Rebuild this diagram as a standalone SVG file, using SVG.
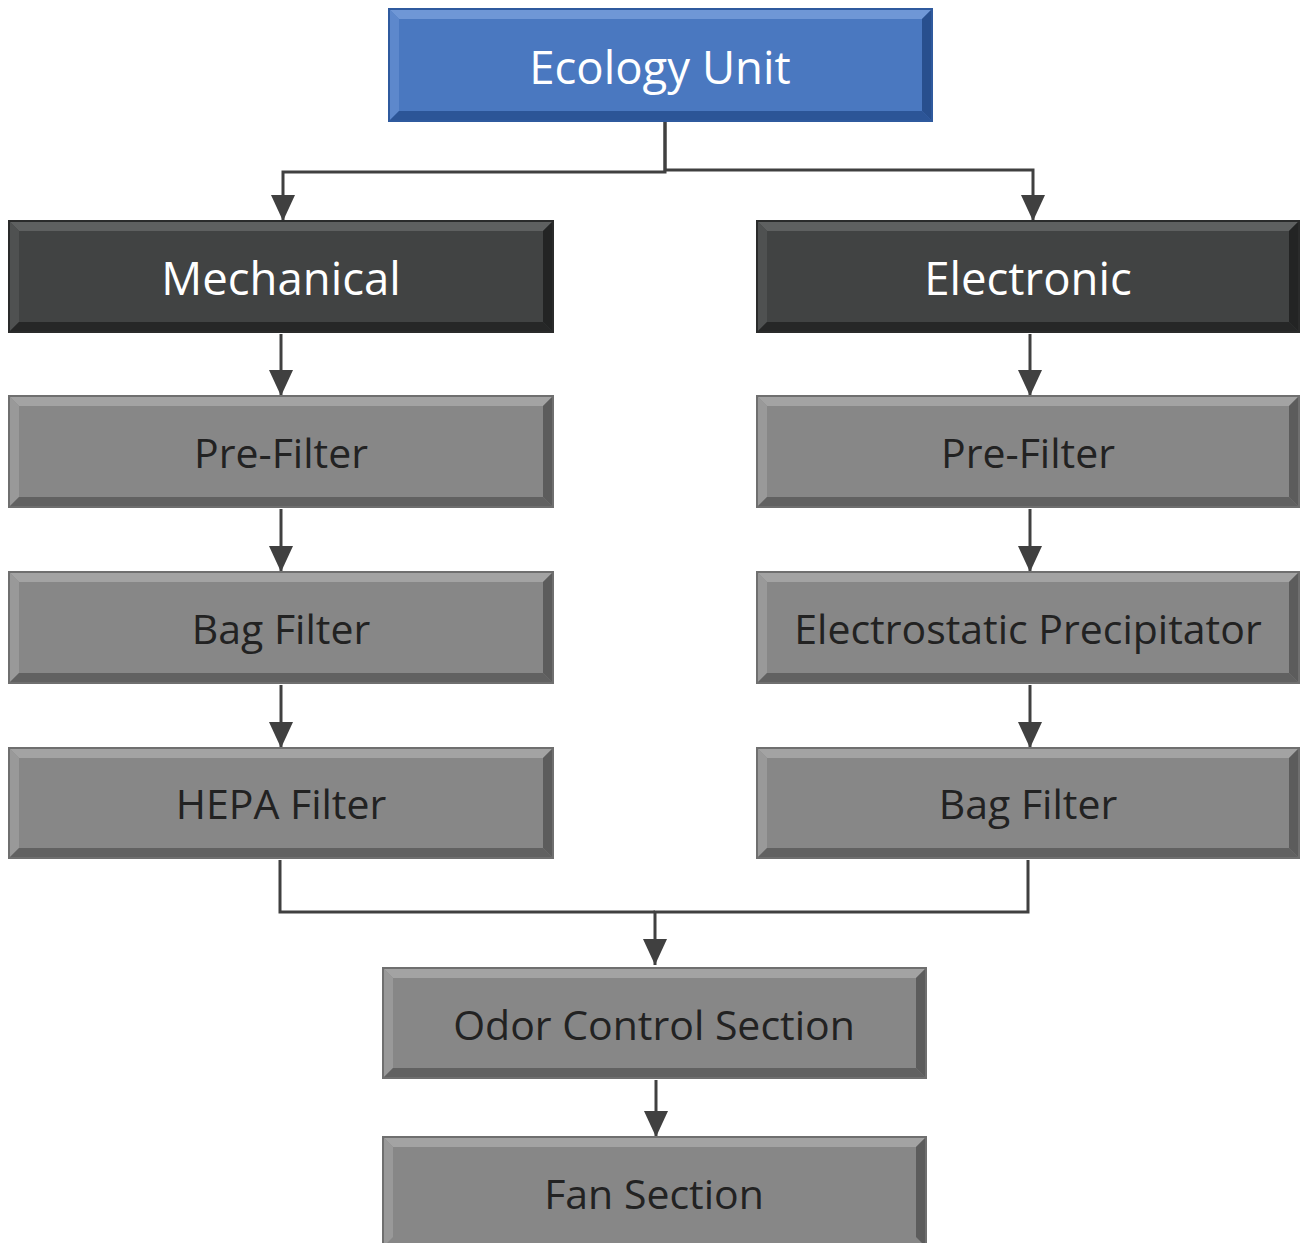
<svg xmlns="http://www.w3.org/2000/svg" width="1304" height="1243" viewBox="0 0 1304 1243">
<defs>
<style>
.face-g{fill:#878787}
.face-d{fill:#414343}
.face-b{fill:#4a78c0}
.edge-g{fill:none;stroke:#6f6f6f;stroke-width:2}
.edge-d{fill:none;stroke:#2a2b2b;stroke-width:2}
.edge-b{fill:none;stroke:#2f5a9e;stroke-width:2}
.t-g{fill:#a3a3a3}.l-g{fill:#999}.b-g{fill:#616161}.r-g{fill:#5c5c5c}
.t-d{fill:#5e6060}.l-d{fill:#4f5151}.b-d{fill:#262727}.r-d{fill:#232424}
.t-b{fill:#6f97d6}.l-b{fill:#5d88cc}.b-b{fill:#2c5597}.r-b{fill:#284f8e}
.lbl{font-family:"Open Sans","Noto Sans",sans-serif;text-anchor:middle;dominant-baseline:central}
.lg{fill:#222;font-size:41px}
.lw{fill:#fff;font-size:45.5px}
.con{fill:none;stroke:#404040;stroke-width:3}
</style>
<marker id="ad" markerUnits="userSpaceOnUse" markerWidth="26" markerHeight="24" viewBox="0 0 26 24" refX="26" refY="12" orient="auto">
<path d="M0 0 L26 12 L0 24 Z" fill="#404040"/>
</marker>
</defs>
<rect width="1304" height="1243" fill="#fff"/>
<g id="connectors">
<path class="con" d="M665 121 V172 H283 V221" marker-end="url(#ad)"/>
<path class="con" d="M665 121 V170 H1033 V221" marker-end="url(#ad)"/>
<path class="con" d="M281 334 V396" marker-end="url(#ad)"/>
<path class="con" d="M1030 334 V396" marker-end="url(#ad)"/>
<path class="con" d="M281 509 V572" marker-end="url(#ad)"/>
<path class="con" d="M1030 509 V572" marker-end="url(#ad)"/>
<path class="con" d="M281 685 V748" marker-end="url(#ad)"/>
<path class="con" d="M1030 685 V748" marker-end="url(#ad)"/>
<path class="con" d="M280 860 V912 H655"/>
<path class="con" d="M1028 860 V912 H655 V965" marker-end="url(#ad)"/>
<path class="con" d="M656 1080 V1137" marker-end="url(#ad)"/>
</g>
<g id="node-ecology">
<rect class="face-b" x="389" y="9" width="543" height="112"/>
<polygon class="t-b" points="389,9 932,9 922,19 399,19"/>
<polygon class="l-b" points="389,9 399,19 399,111 389,121"/>
<polygon class="b-b" points="389,121 932,121 922,111 399,111"/>
<polygon class="r-b" points="932,9 932,121 922,111 922,19"/>
<rect class="edge-b" x="389" y="9" width="543" height="112"/>
<text class="lbl lw" x="660" y="66">Ecology Unit</text>
</g>
<g id="node-mechanical">
<rect class="face-d" x="9" y="221" width="544" height="111"/>
<polygon class="t-d" points="9,221 553,221 543,231 19,231"/>
<polygon class="l-d" points="9,221 19,231 19,322 9,332"/>
<polygon class="b-d" points="9,332 553,332 543,322 19,322"/>
<polygon class="r-d" points="553,221 553,332 543,322 543,231"/>
<rect class="edge-d" x="9" y="221" width="544" height="111"/>
<text class="lbl lw" x="281" y="277">Mechanical</text>
</g>
<g id="node-electronic">
<rect class="face-d" x="757" y="221" width="542" height="111"/>
<polygon class="t-d" points="757,221 1299,221 1289,231 767,231"/>
<polygon class="l-d" points="757,221 767,231 767,322 757,332"/>
<polygon class="b-d" points="757,332 1299,332 1289,322 767,322"/>
<polygon class="r-d" points="1299,221 1299,332 1289,322 1289,231"/>
<rect class="edge-d" x="757" y="221" width="542" height="111"/>
<text class="lbl lw" x="1028" y="277">Electronic</text>
</g>
<g id="node-prefilter-1">
<rect class="face-g" x="9" y="396" width="544" height="111"/>
<polygon class="t-g" points="9,396 553,396 543,406 19,406"/>
<polygon class="l-g" points="9,396 19,406 19,497 9,507"/>
<polygon class="b-g" points="9,507 553,507 543,497 19,497"/>
<polygon class="r-g" points="553,396 553,507 543,497 543,406"/>
<rect class="edge-g" x="9" y="396" width="544" height="111"/>
<text class="lbl lg" x="281" y="452">Pre-Filter</text>
</g>
<g id="node-prefilter-2">
<rect class="face-g" x="757" y="396" width="542" height="111"/>
<polygon class="t-g" points="757,396 1299,396 1289,406 767,406"/>
<polygon class="l-g" points="757,396 767,406 767,497 757,507"/>
<polygon class="b-g" points="757,507 1299,507 1289,497 767,497"/>
<polygon class="r-g" points="1299,396 1299,507 1289,497 1289,406"/>
<rect class="edge-g" x="757" y="396" width="542" height="111"/>
<text class="lbl lg" x="1028" y="452">Pre-Filter</text>
</g>
<g id="node-bagfilter-1">
<rect class="face-g" x="9" y="572" width="544" height="111"/>
<polygon class="t-g" points="9,572 553,572 543,582 19,582"/>
<polygon class="l-g" points="9,572 19,582 19,673 9,683"/>
<polygon class="b-g" points="9,683 553,683 543,673 19,673"/>
<polygon class="r-g" points="553,572 553,683 543,673 543,582"/>
<rect class="edge-g" x="9" y="572" width="544" height="111"/>
<text class="lbl lg" x="281" y="628">Bag Filter</text>
</g>
<g id="node-esp">
<rect class="face-g" x="757" y="572" width="542" height="111"/>
<polygon class="t-g" points="757,572 1299,572 1289,582 767,582"/>
<polygon class="l-g" points="757,572 767,582 767,673 757,683"/>
<polygon class="b-g" points="757,683 1299,683 1289,673 767,673"/>
<polygon class="r-g" points="1299,572 1299,683 1289,673 1289,582"/>
<rect class="edge-g" x="757" y="572" width="542" height="111"/>
<text class="lbl lg" x="1028" y="628">Electrostatic Precipitator</text>
</g>
<g id="node-hepa">
<rect class="face-g" x="9" y="748" width="544" height="110"/>
<polygon class="t-g" points="9,748 553,748 543,758 19,758"/>
<polygon class="l-g" points="9,748 19,758 19,848 9,858"/>
<polygon class="b-g" points="9,858 553,858 543,848 19,848"/>
<polygon class="r-g" points="553,748 553,858 543,848 543,758"/>
<rect class="edge-g" x="9" y="748" width="544" height="110"/>
<text class="lbl lg" x="281" y="803">HEPA Filter</text>
</g>
<g id="node-bagfilter-2">
<rect class="face-g" x="757" y="748" width="542" height="110"/>
<polygon class="t-g" points="757,748 1299,748 1289,758 767,758"/>
<polygon class="l-g" points="757,748 767,758 767,848 757,858"/>
<polygon class="b-g" points="757,858 1299,858 1289,848 767,848"/>
<polygon class="r-g" points="1299,748 1299,858 1289,848 1289,758"/>
<rect class="edge-g" x="757" y="748" width="542" height="110"/>
<text class="lbl lg" x="1028" y="803">Bag Filter</text>
</g>
<g id="node-odor">
<rect class="face-g" x="383" y="968" width="543" height="110"/>
<polygon class="t-g" points="383,968 926,968 916,978 393,978"/>
<polygon class="l-g" points="383,968 393,978 393,1068 383,1078"/>
<polygon class="b-g" points="383,1078 926,1078 916,1068 393,1068"/>
<polygon class="r-g" points="926,968 926,1078 916,1068 916,978"/>
<rect class="edge-g" x="383" y="968" width="543" height="110"/>
<text class="lbl lg" x="654" y="1024">Odor Control Section</text>
</g>
<g id="node-fan">
<rect class="face-g" x="383" y="1137" width="543" height="110"/>
<polygon class="t-g" points="383,1137 926,1137 916,1147 393,1147"/>
<polygon class="l-g" points="383,1137 393,1147 393,1237 383,1247"/>
<polygon class="r-g" points="926,1137 926,1247 916,1237 916,1147"/>
<rect class="edge-g" x="383" y="1137" width="543" height="110"/>
<text class="lbl lg" x="654" y="1193">Fan Section</text>
</g>
</svg>
